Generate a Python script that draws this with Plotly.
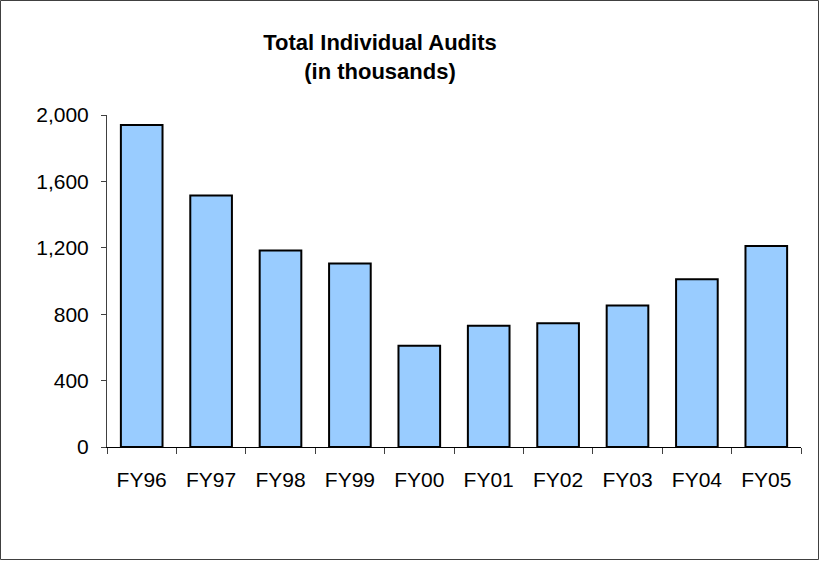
import plotly.graph_objects as go

categories = ["FY96", "FY97", "FY98", "FY99", "FY00", "FY01", "FY02", "FY03", "FY04", "FY05"]
audits = [1940, 1515, 1183, 1105, 610, 731, 745, 852, 1010, 1211]
y_ticks = [0, 400, 800, 1200, 1600, 2000]
y_tick_labels = ["0", "400", "800", "1,200", "1,600", "2,000"]

W, H = 820, 561
L, R, T, B = 107, 19, 115, 114

fig = go.Figure(go.Bar(
    x=categories, y=audits,
    marker=dict(color="#99CCFF", line=dict(color="#000000", width=2)),
    hoverinfo="x+y",
))

font = "Liberation Sans, Arial, sans-serif"

fig.update_layout(
    width=W, height=H,
    margin=dict(l=L, r=R, t=T, b=B, pad=0),
    paper_bgcolor="white", plot_bgcolor="white",
    bargap=0.4,
    showlegend=False,
    title=dict(
        text="<b>Total Individual Audits<br>(in thousands)</b>",
        font=dict(family=font, size=22, color="#000000"),
        x=380 / W, xref="container", xanchor="center",
        y=1 - 50 / H, yref="container", yanchor="top",
    ),
    font=dict(family=font, size=21, color="#000000"),
)

fig.update_xaxes(
    type="category",
    showline=True, linecolor="#000000", linewidth=1,
    ticks="outside", ticklen=6, tickcolor="#404040", tickwidth=1,
    tickson="boundaries",
    showgrid=False, zeroline=False,
    tickfont=dict(family=font, size=21, color="#000000"),
    ticklabelstandoff=14,
)
fig.update_yaxes(
    range=[0, 2000],
    tickvals=y_ticks, ticktext=y_tick_labels,
    showline=True, linecolor="#404040", linewidth=1,
    ticks="outside", ticklen=5, tickcolor="#404040", tickwidth=1,
    showgrid=False, zeroline=False,
    tickfont=dict(family=font, size=21, color="#000000"),
    ticklabelstandoff=8,
)

# outer chart border
px_x = lambda p: (p - L) / (W - L - R)
px_y = lambda p: (H - B - p) / (H - T - B)
fig.add_shape(type="rect", xref="paper", yref="paper",
              x0=px_x(0.5), x1=px_x(W - 1.5), y0=px_y(H - 1.5), y1=px_y(0.5),
              line=dict(color="#404040", width=1), layer="above")

fig.write_html("out.html", config={"displayModeBar": False},
               post_script="document.body.style.margin='0';document.body.style.overflow='hidden';")
